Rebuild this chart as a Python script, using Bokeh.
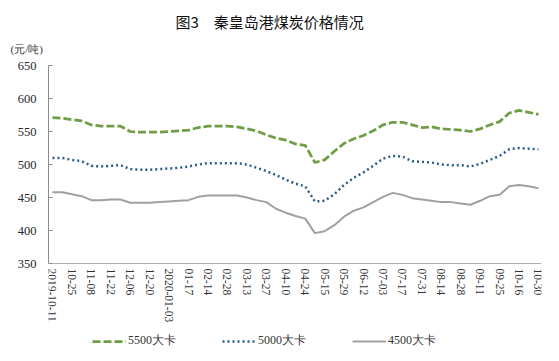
from bokeh.plotting import figure
from bokeh.models import Range1d, FixedTicker, Legend, LegendItem, Title
from bokeh.embed import file_html
from bokeh.resources import INLINE

# ---- data ----
tick_labels = ["2019-10-11", "10-25", "11-08", "11-22", "12-06", "12-20",
               "2020-01-03", "01-17", "02-14", "02-28", "03-13", "03-27",
               "04-10", "04-24", "05-15", "05-29", "06-12", "07-03", "07-17",
               "07-31", "08-14", "08-28", "09-11", "09-25", "10-16", "10-30"]

coal_5500 = [571, 570, 568, 566, 560, 558, 558, 558, 550, 549,
             549, 549, 550, 551, 552, 556, 558, 558, 558, 557,
             554, 551, 545, 540, 537, 531, 529, 503, 507, 520,
             532, 539, 544, 551, 560, 564, 564, 560, 556, 557,
             554, 553, 552, 550, 554, 560, 565, 578, 582, 579,
             576]
coal_5000 = [510, 510, 507, 505, 498, 497, 498, 499, 493, 492,
             492, 493, 494, 495, 497, 500, 502, 502, 502, 502,
             500, 495, 490, 484, 477, 471, 467, 444, 445, 455,
             469, 480, 488, 498, 509, 513, 512, 505, 504, 503,
             500, 499, 499, 497, 501, 507, 513, 523, 525, 524,
             523]
coal_4500 = [458, 458, 455, 452, 446, 446, 447, 447, 442, 442,
             442, 443, 444, 445, 446, 451, 453, 453, 453, 453,
             450, 446, 443, 433, 427, 422, 418, 396, 399, 408,
             421, 430, 435, 443, 451, 457, 454, 449, 447, 445,
             443, 443, 441, 439, 445, 452, 454, 467, 469, 467,
             464]
series_names = ["5500大卡", "5000大卡", "4500大卡"]
y_ticks = [350, 400, 450, 500, 550, 600, 650]
y_min, y_max = 350, 650

n = len(coal_5500)
xs = list(range(n))
tick_pos = list(range(0, n, 2))

# the frame reaches below the 350 line so that the category labels and the
# legend lie inside it; the x axis is pinned at y = 350
plot_h = 198
extra_h = 95
y_start = y_min - extra_h * (y_max - y_min) / plot_h

p = figure(frame_width=493, frame_height=plot_h + extra_h,
           output_backend="svg", toolbar_location=None,
           x_range=Range1d(-0.41, 50.31), y_range=Range1d(y_start, y_max),
           min_border_left=48, min_border_right=18,
           min_border_top=65, min_border_bottom=0,
           title="图3\u3000秦皇岛港煤炭价格情况",
           background_fill_color="white", border_fill_color="white")
p.outline_line_color = None
p.xgrid.visible = False
p.ygrid.visible = False

# main title (outermost)
p.title.text_font = "Noto Sans CJK SC"
p.title.text_font_size = "15px"
p.title.text_font_style = "normal"
p.title.text_color = "#111111"
p.title.align = "left"
p.title.offset = 127
p.title.standoff = -4

# unit label (closest to the frame)
unit_title = Title(text="(元/吨)", align="left", offset=-38,
                   text_font="Liberation Serif", text_font_size="11px",
                   text_font_style="normal", text_color="#333333", standoff=22)
p.add_layout(unit_title, "above")

r1 = p.line(xs, coal_5500, line_color="#6E9D45", line_width=2.75, line_dash="8 3")
r2 = p.line(xs, coal_5000, line_color="#2E5A8C", line_width=2.5, line_dash="2 3")
r3 = p.line(xs, coal_4500, line_color="#A0A0A0", line_width=2)

# axes
p.yaxis.ticker = FixedTicker(ticks=y_ticks)
p.yaxis.bounds = (y_min, y_max)
p.yaxis.axis_line_color = "#8C8C8C"
p.yaxis.major_tick_in = 4
p.yaxis.major_tick_out = 0
p.yaxis.major_tick_line_color = "#8C8C8C"
p.yaxis.minor_tick_line_color = None
p.yaxis.major_label_text_font = "Liberation Serif"
p.yaxis.major_label_text_font_size = "12.5px"
p.yaxis.major_label_text_color = "#262626"
p.yaxis.major_label_standoff = 12

p.xaxis.fixed_location = y_min
p.xaxis.ticker = FixedTicker(ticks=tick_pos)
p.xaxis.major_label_overrides = {tp: lab for tp, lab in zip(tick_pos, tick_labels)}
p.xaxis.major_label_orientation = "vertical"
p.xaxis.axis_line_color = "#B0B0B0"
p.xaxis.major_tick_in = 0
p.xaxis.major_tick_out = 0
p.xaxis.minor_tick_line_color = None
p.xaxis.major_label_text_font = "Liberation Serif"
p.xaxis.major_label_text_font_size = "11.5px"
p.xaxis.major_label_text_color = "#333333"
p.xaxis.major_label_standoff = 5

legend = Legend(items=[LegendItem(label=series_names[0], renderers=[r1]),
                       LegendItem(label=series_names[1], renderers=[r2]),
                       LegendItem(label=series_names[2], renderers=[r3])],
                orientation="horizontal", location=(44, 9),
                glyph_width=34, glyph_height=12, label_standoff=2, spacing=46,
                padding=0, margin=0, border_line_color=None,
                background_fill_alpha=0,
                label_text_font="Liberation Serif", label_text_font_size="12px",
                label_text_color="#333333")
p.add_layout(legend, "center")

open("out.html", "w").write(file_html(p, INLINE))
